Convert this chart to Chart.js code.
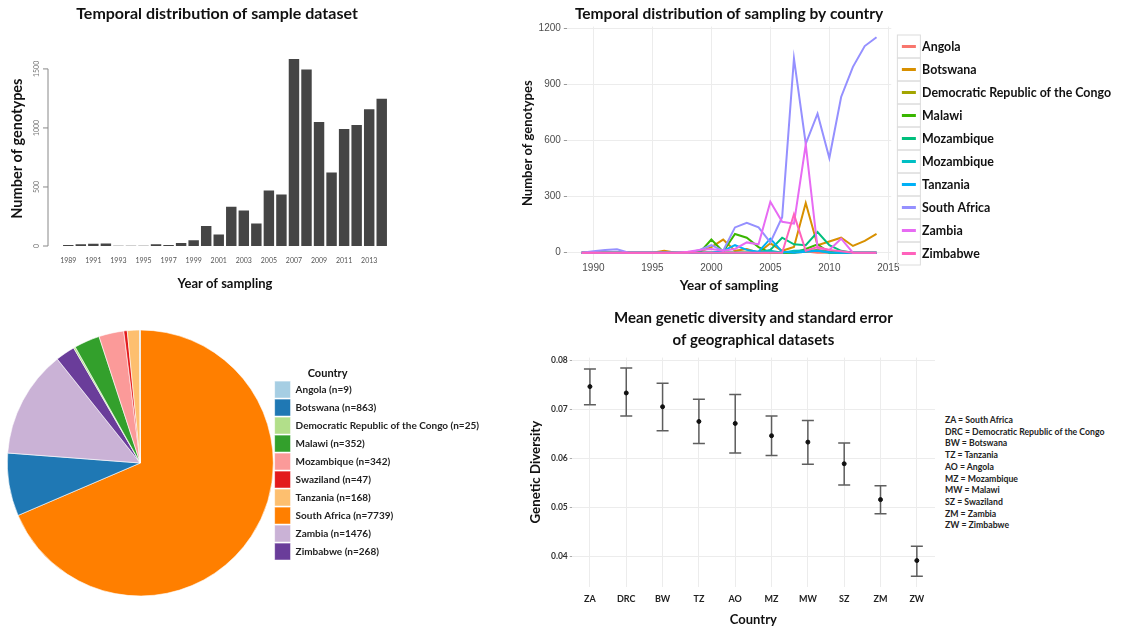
<!DOCTYPE html>
<html>
<head>
<meta charset="utf-8">
<script src="https://cdn.jsdelivr.net/npm/chart.js@4.4.0/dist/chart.umd.min.js"></script>
<style>
  body { margin: 0; background: #fff; width: 1123px; height: 632px; overflow: hidden; position: relative; font-family: Lato, sans-serif; }
  .panel { position: absolute; }
  #abbr { position: absolute; left: 945px; top: 414px; font: bold 8.7px Lato, sans-serif; line-height: 11.7px; color: #222; white-space: nowrap; }
</style>
</head>
<body>
<div class="panel" style="left:0;top:0"><canvas id="bars" width="434" height="300"></canvas></div>
<div class="panel" style="left:520px;top:0"><canvas id="lines" width="603" height="300"></canvas></div>
<div class="panel" style="left:0;top:305px"><canvas id="pie" width="500" height="316"></canvas></div>
<div class="panel" style="left:520px;top:305px"><canvas id="errs" width="420" height="327"></canvas></div>
<div id="abbr"></div>

<script>
// ---- data ----
const years = [1989, 1990, 1991, 1992, 1993, 1994, 1995, 1996, 1997, 1998, 1999, 2000, 2001,
  2002, 2003, 2004, 2005, 2006, 2007, 2008, 2009, 2010, 2011, 2012, 2013, 2014]
const genotypeCounts = [8, 14, 20, 22, 3, 3, 3, 14, 8, 25, 48, 169, 98, 332, 301, 191, 470, 436,
  1584, 1494, 1050, 622, 991, 1024, 1159, 1247]
const barTicks = [0, 500, 1000, 1500]

const seriesNames = ['Angola', 'Botswana', 'Democratic Republic of the Congo', 'Malawi', 'Mozambique',
  'Mozambique', 'Tanzania', 'South Africa', 'Zambia', 'Zimbabwe']
const seriesColors = ['#F8766D', '#D89000', '#A3A500', '#39B600', '#00BF7D', '#00BFC4', '#00B0F6',
  '#9590FF', '#E76BF3', '#FF62BC']
const angola      = [0,0,0,0,0,0,0,0,0,0,0,0,0,0,0,0,0,0,3,6,0,0,0,0,0,0]
const botswana    = [0,0,0,0,0,0,0,10,0,0,5,30,70,10,20,0,50,10,30,265,40,60,80,36,63,100]
const drc         = [0,0,0,0,0,0,0,0,0,0,0,0,0,0,0,0,0,0,0,5,15,5,0,0,0,0]
const malawi      = [0,0,0,0,0,0,0,0,0,0,0,70,5,100,80,30,0,0,0,20,45,0,0,0,0,0]
const mozambique  = [0,0,0,0,0,0,0,0,0,0,0,0,0,0,0,0,15,80,45,40,110,40,10,0,0,0]
const mozambique2 = [0,0,0,0,0,0,0,0,0,0,0,0,0,0,0,5,10,0,10,12,10,0,0,0,0,0]
const tanzania    = [0,0,0,0,0,0,0,0,0,0,0,0,10,40,15,5,75,5,0,5,10,3,0,0,0,0]
const southAfrica = [0,8,15,18,0,0,0,0,0,0,15,40,10,135,160,135,55,190,1038,582,743,506,832,993,1104,1151]
const zambia      = [0,0,0,0,0,0,0,0,0,5,15,20,10,20,55,45,272,165,155,578,25,15,75,0,0,0]
const zimbabwe    = [0,0,0,0,0,0,0,0,0,0,0,0,0,0,0,0,0,0,205,10,30,15,8,0,0,0]
const seriesValues = [angola, botswana, drc, malawi, mozambique, mozambique2, tanzania, southAfrica, zambia, zimbabwe]
const lineXTicks = [1990, 1995, 2000, 2005, 2010, 2015]
const lineYTicks = [0, 300, 600, 900, 1200]

const pieCountries = ['Angola', 'Botswana', 'Democratic Republic of the Congo', 'Malawi', 'Mozambique',
  'Swaziland', 'Tanzania', 'South Africa', 'Zambia', 'Zimbabwe']
const pieCounts = [9, 863, 25, 352, 342, 47, 168, 7739, 1476, 268]
const pieColors = ['#A6CEE3', '#1F78B4', '#B2DF8A', '#33A02C', '#FB9A99', '#E31A1C', '#FDBF6F',
  '#FF7F00', '#CAB2D6', '#6A3D9A']
const sliceOrder = [7, 1, 8, 9, 2, 3, 4, 5, 6, 0]   // clockwise from 12 o'clock

const abbrs = ['ZA', 'DRC', 'BW', 'TZ', 'AO', 'MZ', 'MW', 'SZ', 'ZM', 'ZW']
const abbrNames = ['South Africa', 'Democratic Republic of the Congo', 'Botswana', 'Tanzania', 'Angola',
  'Mozambique', 'Malawi', 'Swaziland', 'Zambia', 'Zimbabwe']
const diversityMean = [0.0746, 0.0733, 0.0705, 0.0675, 0.0671, 0.0646, 0.0633, 0.0589, 0.0516, 0.0392]
const diversityLow  = [0.0709, 0.0686, 0.0656, 0.0630, 0.0611, 0.0606, 0.0588, 0.0546, 0.0487, 0.0360]
const diversityHigh = [0.0782, 0.0784, 0.0753, 0.0720, 0.0730, 0.0686, 0.0677, 0.0631, 0.0544, 0.0421]

Chart.defaults.font.family = 'Lato, sans-serif'
Chart.defaults.animation = false
Chart.defaults.plugins.tooltip.enabled = false

// ---- panel 1: bars, R barplot style ----
const rAxis = {
  id: 'rAxis',
  afterDraw(chart) {
    const { ctx, scales: { y }, chartArea } = chart
    const x0 = chartArea.left - 14
    ctx.save()
    ctx.strokeStyle = '#888'
    ctx.lineWidth = 1
    ctx.beginPath()
    ctx.moveTo(x0, y.getPixelForValue(0))
    ctx.lineTo(x0, y.getPixelForValue(1500))
    barTicks.forEach(v => {
      const py = y.getPixelForValue(v)
      ctx.moveTo(x0, py)
      ctx.lineTo(x0 - 5, py)
    })
    ctx.stroke()
    ctx.fillStyle = '#777'
    ctx.font = '7px Lato, sans-serif'
    ctx.textAlign = 'center'
    ctx.textBaseline = 'bottom'
    barTicks.forEach(v => {
      ctx.save()
      ctx.translate(x0 - 8, y.getPixelForValue(v))
      ctx.rotate(-Math.PI / 2)
      ctx.fillText(String(v), 0, 0)
      ctx.restore()
    })
    ctx.restore()
  }
}

new Chart(document.getElementById('bars'), {
  type: 'bar',
  data: {
    labels: years,
    datasets: [{ data: genotypeCounts, backgroundColor: '#454545', barPercentage: 0.833, categoryPercentage: 1 }]
  },
  options: {
    responsive: false,
    plugins: {
      legend: { display: false },
      title: { display: true, text: 'Temporal distribution of sample dataset', color: '#111',
        font: { size: 16, weight: 'bold' }, padding: { top: 4, bottom: 28 } }
    },
    scales: {
      x: {
        grid: { display: false, drawTicks: false },
        border: { display: false },
        ticks: {
          autoSkip: false, maxRotation: 0, color: '#555', font: { size: 7 }, padding: 11,
          callback(val, i) { return i % 2 === 0 ? this.getLabelForValue(val) : '' }
        },
        title: { display: true, text: 'Year of sampling', color: '#111', font: { size: 13, weight: 'bold' },
          padding: { top: 0, bottom: 8 } }
      },
      y: {
        min: 0, max: 1650,
        grid: { display: false, drawTicks: false },
        border: { display: false },
        ticks: { display: false },
        title: { display: true, text: 'Number of genotypes', color: '#111', font: { size: 14.5, weight: 'bold' },
          padding: { top: 9, bottom: 0 } },
        afterFit(s) { s.width = 62 }
      },
      yRight: {
        position: 'right',
        display: true,
        grid: { display: false, drawTicks: false },
        border: { display: false },
        ticks: { display: false },
        afterFit(s) { s.width = 46 }
      }
    }
  },
  plugins: [rAxis]
})

// ---- panel 2: lines by country, ggplot style ----
const keyBoxes = {
  id: 'keyBoxes',
  afterDraw(chart) {
    const boxes = chart.legend.legendHitBoxes
    const ctx = chart.ctx
    ctx.save()
    ctx.strokeStyle = '#dcdcdc'
    ctx.lineWidth = 1
    boxes.forEach(b => {
      const cy = b.top + b.height / 2
      ctx.strokeRect(b.left - 4.5, cy - 11.5, 23, 23)
    })
    ctx.restore()
  }
}

new Chart(document.getElementById('lines'), {
  type: 'line',
  data: {
    datasets: seriesNames.map((name, i) => ({
      label: name,
      data: years.map((yr, j) => ({ x: yr, y: seriesValues[i][j] })),
      borderColor: seriesColors[i],
      backgroundColor: seriesColors[i],
      borderWidth: 2,
      pointRadius: 0,
      tension: 0,
      order: seriesNames.length - i
    }))
  },
  options: {
    responsive: false,
    layout: { padding: { right: 2 } },
    plugins: {
      title: { display: true, fullSize: false, text: 'Temporal distribution of sampling by country', color: '#111',
        font: { size: 15.5, weight: 'bold' }, padding: { top: 5, bottom: 3 } },
      legend: {
        position: 'right',
        maxWidth: 240,
        labels: {
          usePointStyle: true, pointStyle: 'line', pointStyleWidth: 14, color: '#111',
          font: { size: 12.4, weight: 'bold' }, padding: 10.6,
          sort: (a, b) => a.datasetIndex - b.datasetIndex,
          generateLabels(chart) {
            return Chart.defaults.plugins.legend.labels.generateLabels(chart).map(l => ({ ...l, lineWidth: 3 }))
          }
        }
      }
    },
    scales: {
      x: {
        type: 'linear', min: 1987.75, max: 2015.25,
        grid: { color: '#ececec', drawTicks: false },
        border: { display: false },
        afterBuildTicks(s) { s.ticks = lineXTicks.map(v => ({ value: v })) },
        ticks: { color: '#4d4d4d', font: { size: 10, family: 'Liberation Sans' }, padding: 2,
          callback: v => String(v) },
        title: { display: true, text: 'Year of sampling', color: '#111', font: { size: 13.5, weight: 'bold' },
          padding: { top: 2, bottom: 6 } }
      },
      y: {
        min: -38, max: 1208,
        grid: { color: '#ececec', drawTicks: true, tickLength: 3, tickColor: '#999' },
        border: { display: false },
        afterBuildTicks(s) { s.ticks = lineYTicks.map(v => ({ value: v })) },
        ticks: { color: '#4d4d4d', font: { size: 10, family: 'Liberation Sans' }, padding: 3,
          callback: v => String(v) },
        title: { display: true, text: 'Number of genotypes', color: '#111', font: { size: 13, weight: 'bold' },
          padding: { top: 0, bottom: 0 } }
      }
    }
  },
  plugins: [keyBoxes]
})

// ---- panel 3: pie ----
const pieTitle = {
  id: 'pieTitle',
  afterDraw(chart) {
    const b = chart.legend.legendHitBoxes[0]
    const ctx = chart.ctx
    ctx.save()
    ctx.fillStyle = '#111'
    ctx.font = 'bold 11px Lato, sans-serif'
    ctx.textAlign = 'center'
    ctx.textBaseline = 'middle'
    ctx.fillText('Country', b.left + 53, b.top - 8)
    ctx.restore()
  }
}

new Chart(document.getElementById('pie'), {
  type: 'pie',
  data: {
    labels: sliceOrder.map(i => `${pieCountries[i]} (n=${pieCounts[i]})`),
    datasets: [{
      data: sliceOrder.map(i => pieCounts[i]),
      backgroundColor: sliceOrder.map(i => pieColors[i]),
      borderColor: '#fff',
      borderWidth: 0.6
    }]
  },
  options: {
    responsive: false,
    layout: { padding: { left: 7, right: 11 } },
    plugins: {
      legend: {
        position: 'right',
        title: { display: true, text: 'Country', color: 'rgba(0,0,0,0)', font: { size: 11, weight: 'bold' }, padding: { top: 0, bottom: 2 } },
        labels: {
          boxWidth: 16, boxHeight: 17, padding: 1, color: '#222',
          font: { size: 10, weight: 'bold' },
          sort: (a, b) => sliceOrder[a.index] - sliceOrder[b.index]
        }
      }
    }
  },
  plugins: [pieTitle]
})

// ---- panel 4: mean genetic diversity with error bars ----
const errorBars = {
  id: 'errorBars',
  beforeDatasetsDraw(chart) {
    const { ctx, scales: { x, y } } = chart
    ctx.save()
    ctx.strokeStyle = '#5e5e5e'
    ctx.lineWidth = 1.5
    abbrs.forEach((a, i) => {
      const px = x.getPixelForValue(i)
      const top = y.getPixelForValue(diversityHigh[i])
      const bot = y.getPixelForValue(diversityLow[i])
      ctx.beginPath()
      ctx.moveTo(px, top); ctx.lineTo(px, bot)
      ctx.moveTo(px - 6, top); ctx.lineTo(px + 6, top)
      ctx.moveTo(px - 6, bot); ctx.lineTo(px + 6, bot)
      ctx.stroke()
    })
    ctx.restore()
  }
}

new Chart(document.getElementById('errs'), {
  type: 'line',
  data: {
    labels: abbrs,
    datasets: [{ data: diversityMean, showLine: false, pointRadius: 2, pointBackgroundColor: '#111', pointBorderColor: '#111' }]
  },
  options: {
    responsive: false,
    layout: { padding: { right: 5 } },
    plugins: {
      legend: { display: false },
      title: { display: true, fullSize: false, text: ['Mean genetic diversity and standard error', 'of geographical datasets'],
        color: '#111', font: { size: 15, weight: 'bold', lineHeight: 1.47 }, padding: { top: 2, bottom: 6.5 } }
    },
    scales: {
      x: {
        offset: true,
        grid: { color: '#ececec', drawTicks: false, offset: false },
        border: { display: false },
        ticks: { color: '#222', font: { size: 9, weight: 'bold' }, padding: 7 },
        title: { display: true, text: 'Country', color: '#111', font: { size: 13, weight: 'bold' }, padding: { top: 1, bottom: 4 } }
      },
      y: {
        min: 0.0339, max: 0.0805,
        grid: { color: '#ececec', drawTicks: true, tickLength: 2, tickColor: '#aaa' },
        border: { display: false },
        ticks: { stepSize: 0.01, includeBounds: false, color: '#333', font: { size: 8.5, weight: 'bold' }, padding: 2,
          callback: v => v.toFixed(2) },
        title: { display: true, text: 'Genetic Diversity', color: '#111', font: { size: 13.3, weight: 'bold' },
          padding: { top: 8, bottom: 5 } }
      }
    }
  },
  plugins: [errorBars]
})

document.getElementById('abbr').innerHTML =
  abbrs.map((a, i) => `${a} = ${abbrNames[i]}`).join('<br>')
</script>
</body>
</html>
